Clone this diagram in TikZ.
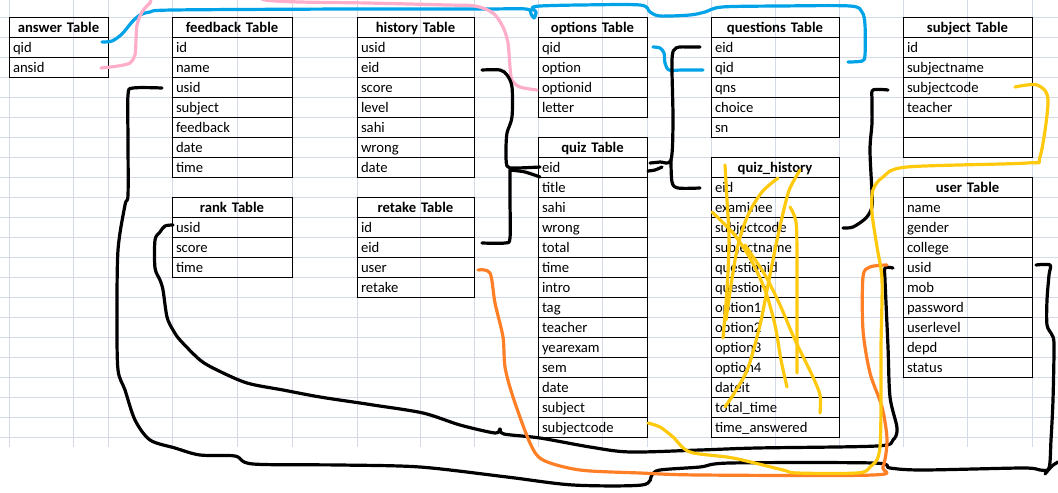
\documentclass[tikz,border=0pt]{standalone}
\usepackage{fontspec}
\setmainfont{Carlito}
\usetikzlibrary{positioning}

\newdimen\pxu \pxu=0.75pt
\definecolor{gridgray}{HTML}{D4DAE6}
\definecolor{penblack}{HTML}{000000}
\definecolor{penblue}{HTML}{00A2E8}
\definecolor{penpink}{HTML}{FFAEC9}
\definecolor{penorange}{HTML}{FF7F27}
\definecolor{penyellow}{HTML}{FFC90E}

\tikzset{
  gridln/.style={draw=gridgray, line width=0.75pt},
  tblbase/.style={draw, line width=0.75pt, outer sep=0pt, inner xsep=4\pxu, inner ysep=0pt,
    minimum height=20\pxu, text height=9.4pt, text depth=1.6pt,
    font=\fontsize{11pt}{13pt}\selectfont},
  tblhead/.style={tblbase, anchor=north west, align=center, font=\fontsize{11pt}{13pt}\selectfont\bfseries},
  tblcell/.style={tblbase, align=left},
  pen/.style={line width=2.4pt, line cap=round, line join=round},
  blk/.style={pen, draw=penblack},
  blu/.style={pen, draw=penblue},
  pnk/.style={pen, draw=penpink},
  orn/.style={pen, draw=penorange},
  yel/.style={pen, draw=penyellow},
}

% table: name, position, width (px), title, fields
\newcommand\dbtable[5]{%
  \pgfmathsetlengthmacro\tblw{(#3-8)*0.75pt}%
  \node[tblhead, text width=\tblw, alias=#1-0] (#1) at #2 {#4};
  \foreach \fld [count=\i, remember=\i as \j (initially 0)] in {#5}
    \node[tblcell, text width=\tblw, below=0pt of #1-\j] (#1-\i) {\fld};
}

\begin{document}
\begin{tikzpicture}[x=0.75pt, y=-0.75pt]
  \useasboundingbox (0,0) rectangle (1058,493);
  \fill[white] (0,0) rectangle (1058,493);
  \clip (0,0) rectangle (1058,493);

  % sheet grid
  \foreach \gx in {9,73,108,172,237,292,357,420,474,538,602,647,711,775,839,903,967,1032}
    \draw[gridln] (\gx,0) -- (\gx,447);
  \foreach \gy in {17,37,...,437}
    \draw[gridln] (0,\gy) -- (1058,\gy);

  % tables
  \dbtable{ans}{(9,17)}{99}{answer Table}{qid,ansid}
  \dbtable{fb}{(172,17)}{120}{feedback Table}{id,name,usid,subject,feedback,date,time}
  \dbtable{hist}{(357,17)}{117}{history Table}{usid,eid,score,level,sahi,wrong,date}
  \dbtable{opt}{(538,17)}{109}{options Table}{qid,option,optionid,letter}
  \dbtable{qns}{(711,17)}{128}{questions Table}{eid,qid,qns,choice,sn}
  \dbtable{subj}{(903,17)}{129}{subject Table}{id,subjectname,subjectcode,teacher,{},{}}
  \dbtable{quiz}{(538,137)}{109}{quiz Table}{eid,title,sahi,wrong,total,time,intro,tag,teacher,yearexam,sem,date,subject,subjectcode}
  \dbtable{qh}{(711,157)}{128}{quiz\_history}{eid,examinee,subjectcode,subjectname,questionid,question,option1,option2,option3,option4,dateit,total\_time,time\_answered}
  \dbtable{usr}{(903,177)}{129}{user Table}{name,gender,college,usid,mob,password,userlevel,depd,status}
  \dbtable{rnk}{(172,197)}{120}{rank Table}{usid,score,time}
  \dbtable{rtk}{(357,197)}{117}{retake Table}{id,eid,user,retake}

  % blue links
  \draw[blu] plot[smooth, tension=0.5] coordinates {([shift={(-6,-5)}]ans-1.east) (112,41) (122,34) (132,22) (140,15) (150,12) (173,10) (350,9) (483,9) (526,9) (531,14) (534,18) (536,12) (532,8) (540,6) (580,5) (640,5) (650,12) (660,16) (690,15) (705,12) (722,7) (780,6) (850,6) (862,12) (865,25) (865,55) (862,61) ([shift={(9,-5)}]qns-2.east)};
  \draw[blu] plot[smooth, tension=0.5] coordinates {([shift={(6,0)}]opt-1.east) (660,48) (664,53) (665,63) (669,70) (682,70) ([shift={(-8,3)}]qns-2.west)};

  % pink link
  \draw[pnk] plot[smooth, tension=0.5] coordinates {([shift={(-7,1)}]ans-2.east) (118,66) (130,63) (135,55) (136,40) (137,25) (142,12) (150,3) (160,-5) (250,-6) (265,0) (300,2) (367,3) (447,5) (475,6) (493,13) (503,27) (508,43) (510,67) (512,80) (520,87) ([shift={(-1,3)}]opt-3.west)};

  % black links
  \draw[blk] plot[smooth, tension=0.5] coordinates {([shift={(8,3)}]hist-2.east) (500,70) (507,75) (512,87) (512,117) (507,133) (506,150) (507,166) (515,168) ([shift={(2,0)}]quiz-1.west)};
  \draw[blk] plot[smooth, tension=0.5] coordinates {(510,170) (525,172) (540,177)};
  \draw[blk] plot[smooth, tension=0.5] coordinates {([shift={(8,-4)}]rtk-2.east) (505,243) (510,238) (510,200) ([shift={(-28,3)}]quiz-1.west)};
  \draw[blk] plot[smooth, tension=0.5] coordinates {([shift={(3,-4)}]quiz-1.east) (660,162) (671,160) (673,120) (672,60) (676,48) (690,47) ([shift={(-11,0)}]qns-1.west)};
  \draw[blk] plot[smooth, tension=0.5] coordinates {(671,160) (672,182) (678,188) ([shift={(-11,1)}]qh-1.west)};
  \draw[blk] plot[smooth, tension=0.5] coordinates {(648,171) (655,170) (662,167)};
  \draw[blk] plot[smooth, tension=0.5] coordinates {([shift={(-15,3)}]subj-3.west) (873,90) (872,100) (872,123) (870,150) (872,193) (872,207) (866,218) (853,227) ([shift={(4,1)}]qh-3.east)};
  \draw[blk] plot[smooth, tension=0.5] coordinates {([shift={(4,-2)}]usr-4.east) (1050,265) (1049,275) (1047,300) (1047,325) (1052,335) (1054,345) (1053,400) (1051,440) (1049,468) (1040,470) (1023,468) (923,470) (890,468) (873,463) (730,463) (700,467) (660,470) (652,475) (642,485) (573,485) (507,477) (420,467) (340,465) (253,464) (235,456) (200,455) (175,448) (150,440) (135,420) (125,390) (118,370) (117,320) (118,250) (125,205) (128,195) (128,140) (128,95) (133,88) ([shift={(-10,1)}]fb-3.west)};
  \draw[blk] plot[smooth, tension=0.5] coordinates {(1045,474) (1052,466) (1058,462)};
  \draw[blk] plot[smooth, tension=0.5] coordinates {([shift={(1,-2)}]rnk-1.west) (165,226) (160,232) (155,240) (155,268) (160,280) (163,290) (167,317) (173,330) (180,340) (200,360) (217,370) (247,383) (283,390) (320,397) (360,403) (373,405) (423,413) (460,425) (495,433) (500,429) (504,434) (540,438) (590,447) (630,452) (700,450) (757,448) (877,446) (893,440) (897,428) (890,397) (888,347) (885,280) (885,268) ([shift={(-10,1)}]usr-4.west)};

  % orange link
  \draw[orn] plot[smooth, tension=0.5] coordinates {([shift={(4,3)}]rtk-3.east) (490,273) (495,303) (503,337) (505,367) (513,397) (530,443) (543,460) (580,470) (640,473) (700,475) (873,475) (883,467) (887,440) (882,407) (870,373) (863,330) (863,277) (870,267) ([shift={(-16,-2)}]usr-4.west)};

  % yellow link
  \draw[yel] plot[smooth, tension=0.5] coordinates {([shift={(1,-4)}]quiz-14.east) (660,427) (673,437) (690,452) (733,458) (783,470) (797,473) (857,473) (870,467) (880,447) (881,347) (882,280) (877,247) (872,213) (873,190) (883,177) (907,167) (1027,163) (1040,157) (1048,100) (1037,85) ([shift={(-17,0)}]subj-3.east)};

  % yellow scribbles over quiz_history
  \draw[yel] plot[smooth, tension=0.5] coordinates {(725,165) (727,200) (729,240) (727,290) (723,338)};
  \draw[yel] plot[smooth, tension=0.5] coordinates {(778,178) (762,192) (748,215) (738,245) (731,285) (726,320)};
  \draw[yel] plot[smooth, tension=0.5] coordinates {(800,170) (790,188) (785,205) (777,240) (768,285) (760,325) (748,368) (735,392) (725,407)};
  \draw[yel] plot[smooth, tension=0.5] coordinates {(712,212) (733,233) (750,258) (765,290) (775,325) (781,360) (787,387)};
  \draw[yel] plot[smooth, tension=0.5] coordinates {(745,245) (765,275) (780,305) (795,340) (812,375) (820,395) (820,413)};
  \draw[yel] plot[smooth, tension=0.5] coordinates {(790,207) (796,222) (797,260) (797,373)};
\end{tikzpicture}
\end{document}
